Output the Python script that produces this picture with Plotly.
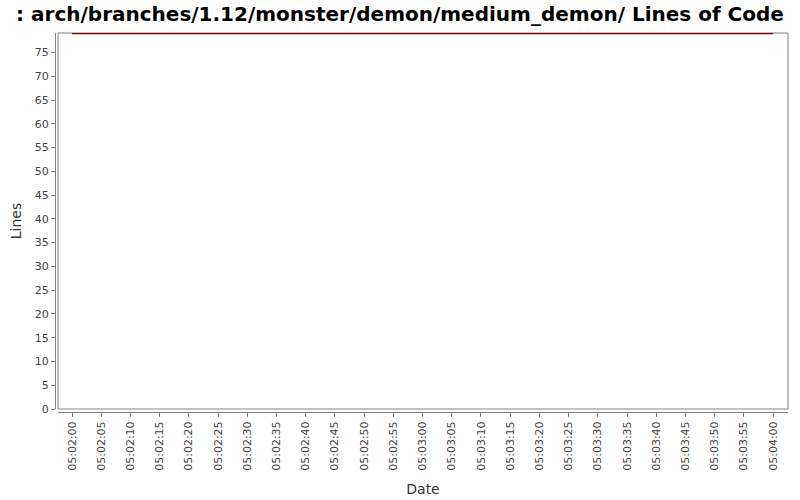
import plotly.graph_objects as go

# Lines of code over time
dates = ['2024-01-01 05:02:00', '2024-01-01 05:04:00']
lines = [79, 79]

# tick labels every 5 seconds
tick_vals = ['2024-01-01 05:%02d:%02d' % (2 + s // 60, s % 60) for s in range(0, 125, 5)]

W, H = 800, 500
left, right, top, bottom = 58, 788, 33, 409

fig = go.Figure()
fig.add_trace(go.Scatter(
    x=dates, y=lines, mode='lines',
    line=dict(color='#800000', width=1.3),
    showlegend=False,
))

fig.update_layout(
    width=W, height=H,
    template='none',
    margin=dict(l=0, r=0, t=0, b=0),
    paper_bgcolor='white',
    plot_bgcolor='white',
    font=dict(family='DejaVu Sans', color='#444444'),
    title=dict(
        text=': arch/branches/1.12/monster/demon/medium_demon/ Lines of Code',
        x=0.5, xanchor='center', y=1 - 14 / H, yanchor='middle',
        font=dict(family='DejaVu Sans', size=20, color='black', weight='bold'),
    ),
    xaxis=dict(
        domain=[left / W, right / W],
        anchor='free', position=1 - 412 / H,
        type='date',
        range=['2024-01-01 05:01:57.6', '2024-01-01 05:04:02.55'],
        tickmode='array', tickvals=tick_vals, tickformat='%H:%M:%S',
        tickangle=-90,
        tickfont=dict(size=11, color='#444444'),
        ticks='outside', ticklen=4, tickcolor='#808080',
        showline=True, linecolor='#808080', linewidth=1,
        showgrid=False, zeroline=False, automargin=False,
        title=dict(text='Date', font=dict(size=14, color='#333333'), standoff=14),
    ),
    yaxis=dict(
        domain=[1 - bottom / H, 1 - top / H],
        anchor='free', position=55 / W,
        range=[0, 79.1],
        tickmode='linear', tick0=0, dtick=5,
        tickfont=dict(size=11, color='#444444'),
        ticks='outside', ticklen=4, tickcolor='#808080',
        showline=True, linecolor='#808080', linewidth=1,
        showgrid=False, zeroline=False, automargin=False,
        title=dict(text='Lines', font=dict(size=14, color='#333333'), standoff=8),
    ),
    shapes=[dict(
        type='rect', xref='x domain', yref='y domain',
        x0=0, x1=1, y0=0, y1=1,
        line=dict(color='#808080', width=1), layer='below',
    )],
)

# drop the default page margin so the chart sits at the window's corner
fig.write_html('out.html', config={'displayModeBar': False},
               post_script="document.body.style.margin='0';")
